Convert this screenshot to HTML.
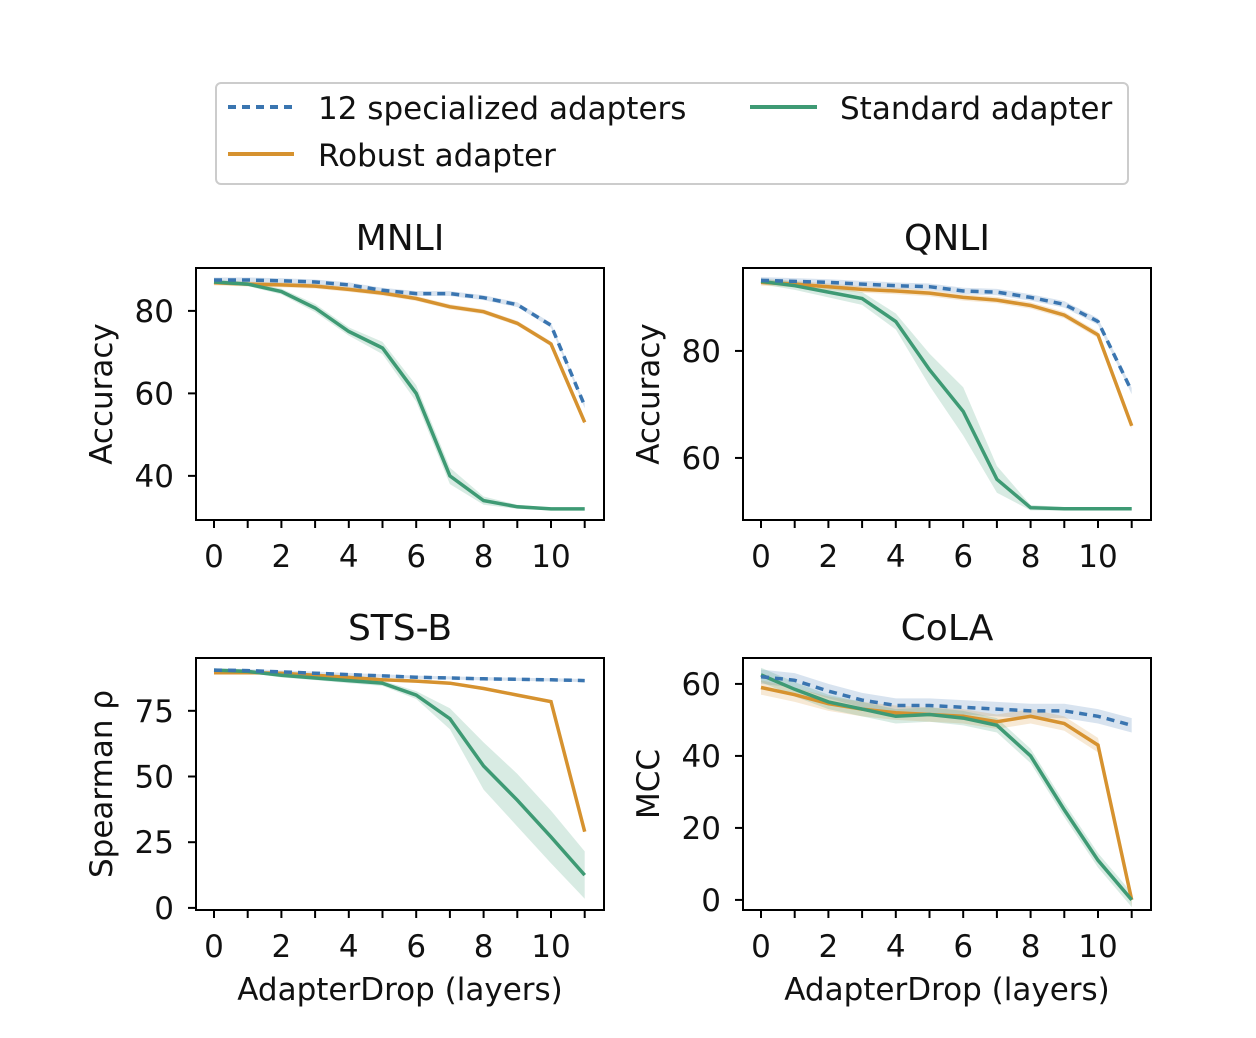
<!DOCTYPE html>
<html><head><meta charset="utf-8"><style>
body{margin:0;background:#fff;}
svg{display:block;font-family:"DejaVu Sans","Liberation Sans",sans-serif;}
</style></head><body>
<svg id="fig" width="1256" height="1038" viewBox="0 0 1256 1038">
<g>
<rect x="216" y="83" width="912" height="101" rx="5" fill="#fff" stroke="#cccccc" stroke-width="2"/>
<line x1="228" y1="107" x2="294" y2="107" stroke="#3a75b0" stroke-width="4" stroke-dasharray="8,6"/>
<text x="318" y="119" font-size="31" fill="#111">12 specialized adapters</text>
<line x1="228" y1="154" x2="294" y2="154" stroke="#d6922f" stroke-width="4"/>
<text x="318" y="166" font-size="31" fill="#111">Robust adapter</text>
<line x1="750" y1="107" x2="817" y2="107" stroke="#3e9a74" stroke-width="4"/>
<text x="840" y="119" font-size="31" fill="#111">Standard adapter</text>
</g>
</svg>
<script>
const layers=[0,1,2,3,4,5,6,7,8,9,10,11];
const xTicks=[0,2,4,6,8,10];
const mnliSpec=[87.5,87.5,87.3,87,86.3,85,84.2,84.2,83.2,81.5,76.5,57];
const mnliRob=[86.8,86.5,86.3,86,85.2,84.3,83,81,79.8,77,72,53];
const mnliStd=[87,86.5,84.7,80.7,75,71,60,40,34,32.5,32,32];
const mnliStdCI=[0.5,0.5,0.7,1,1,1.5,2,2,1,0.5,0.3,0.3];
const qnliSpec=[93.2,93,92.8,92.5,92.2,92,91.2,91,90,88.7,85.5,72.5];
const qnliRob=[92.8,92.5,92,91.5,91.2,90.8,90,89.5,88.5,86.7,83,66];
const qnliStd=[93,92.2,91,89.8,85.5,76.5,68.7,56,50.7,50.5,50.5,50.5];
const qnliStdCI=[0.5,0.8,1,1.2,1.5,3,4.5,2.5,0.5,0.3,0.3,0.3];
const stsSpec=[90.5,90.3,89.8,89.3,88.8,88.3,87.8,87.5,87.2,87,86.8,86.5];
const stsRob=[89.5,89.5,89.3,88.5,87.7,86.8,86.3,85.5,83.5,81,78.5,29];
const stsStd=[90.5,90,88.5,87.5,86.5,85.5,81,72,54,41,27,12.5];
const stsStdCI=[0.5,0.5,0.8,0.8,1,1,1.5,4,9,10,10,9];
const colaSpec=[62,61,58,55.5,54,54,53.5,53,52.5,52.5,51,48.5];
const colaRob=[59,57,54.5,53,52,51.5,51,49.5,51,49,43,0];
const colaStd=[62.5,58.5,55,53,51,51.5,50.5,48.5,40,25,11,0];
const colaCI=[2,2,2,2,2,2,2,2,2,2,2,2];
const panels=[
 {name:'mnli',title:'MNLI',x0:196,y0:268,yl:'Accuracy',ymin:29.3,ymax:90.4,yt:[40,60,80],spec:mnliSpec,rob:mnliRob,std:mnliStd,ci:mnliStdCI,xl:false},
 {name:'qnli',title:'QNLI',x0:743,y0:268,yl:'Accuracy',ymin:48.4,ymax:95.5,yt:[60,80],spec:qnliSpec,rob:qnliRob,std:qnliStd,ci:qnliStdCI,xl:false},
 {name:'stsb',title:'STS-B',x0:196,y0:658,yl:'Spearman ρ',ymin:-0.8,ymax:95.1,yt:[0,25,50,75],spec:stsSpec,rob:stsRob,std:stsStd,ci:stsStdCI,xl:true},
 {name:'cola',title:'CoLA',x0:743,y0:658,yl:'MCC',ymin:-2.8,ymax:67.2,yt:[0,20,40,60],spec:colaSpec,rob:colaRob,std:colaStd,ci:colaCI,xl:true}
];
const NS='http://www.w3.org/2000/svg';
const svg=document.getElementById('fig');
function mk(tag,attrs,parent){const e=document.createElementNS(NS,tag);for(const k in attrs)e.setAttribute(k,attrs[k]);parent.appendChild(e);return e;}
const W=408,H=252;
panels.forEach(p=>{
 const g=mk('g',{},svg);
 
 
 const sx=v=>p.x0+18+v*33.7;
 const sy=v=>p.y0+H-(v-p.ymin)/(p.ymax-p.ymin)*H;
 const pts=arr=>arr.map((v,i)=>sx(layers[i]).toFixed(1)+','+sy(v).toFixed(1)).join(' ');
 function band(arr,ci,col,nm){
  const up=arr.map((v,i)=>sx(layers[i])+','+sy(v+ci[i]));
  const lo=arr.map((v,i)=>sx(layers[i])+','+sy(v-ci[i])).reverse();
  const b=mk('polygon',{points:up.concat(lo).join(' '),fill:col,'fill-opacity':0.2,stroke:'none'},g);
  
  
 }
 const small=p.spec.map(()=>p.name==='cola'?2:0.6);
 band(p.spec,small,'#3a75b0',p.name+'-specialized-band');
 band(p.rob,small,'#d6922f',p.name+'-robust-band');
 band(p.std,p.ci,'#3e9a74',p.name+'-standard-band');
 const l1=mk('polyline',{points:pts(p.rob),fill:'none',stroke:'#d6922f','stroke-width':3.5},g);
 
 
 const l2=mk('polyline',{points:pts(p.std),fill:'none',stroke:'#3e9a74','stroke-width':3.5},g);
 
 
 const l3=mk('polyline',{points:pts(p.spec),fill:'none',stroke:'#3a75b0','stroke-width':3.5,'stroke-dasharray':'8,6'},g);
 
 
 const fr=mk('rect',{x:p.x0,y:p.y0,width:W,height:H,fill:'none',stroke:'#000','stroke-width':2},g);
 
 
 layers.forEach(v=>{mk('line',{x1:sx(v),y1:p.y0+H,x2:sx(v),y2:p.y0+H+8,stroke:'#000','stroke-width':2},g);});
 xTicks.forEach(v=>{
  const t=mk('text',{x:sx(v),y:p.y0+H+47,'font-size':31,'text-anchor':'middle',fill:'#111'},g);
  t.textContent=v;
  
  
 });
 p.yt.forEach(v=>{
  mk('line',{x1:p.x0-8,y1:sy(v),x2:p.x0,y2:sy(v),stroke:'#000','stroke-width':2},g);
  const t=mk('text',{x:p.x0-22,y:sy(v)+11,'font-size':31,'text-anchor':'end',fill:'#111'},g);
  t.textContent=v;
  
  
 });
 const ti=mk('text',{x:p.x0+W/2,y:p.y0-18,'font-size':36,'text-anchor':'middle',fill:'#111'},g);
 ti.textContent=p.title;
 
 
 const cy=p.y0+H/2;
 const yx=p.x0-95;
 const yl=mk('text',{x:yx,y:cy,'font-size':31,'text-anchor':'middle',fill:'#111'},g);
 yl.textContent=p.yl;
 yl.setAttribute('transform','rotate(-90 '+yx+' '+cy+') translate(0,11)');
 
 
 if(p.xl){
  const xl=mk('text',{x:p.x0+W/2,y:p.y0+H+90,'font-size':31,'text-anchor':'middle',fill:'#111'},g);
  xl.textContent='AdapterDrop (layers)';
  
  
 }
});
</script>
</body></html>
